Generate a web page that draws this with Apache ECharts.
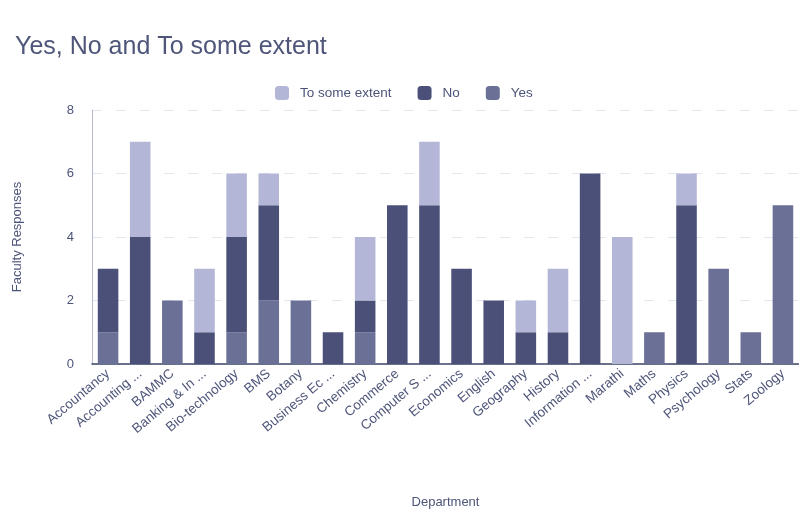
<!DOCTYPE html>
<html>
<head>
<meta charset="utf-8">
<script src="https://cdn.jsdelivr.net/npm/echarts@6/dist/echarts.min.js"></script>
<style>
  html, body { margin: 0; padding: 0; background: #ffffff; }
  #chart { width: 799px; height: 512px; }
</style>
</head>
<body>
<div id="chart"></div>
<script>
// Departments (labels as shown, long names truncated)
const departments = [
  'Accountancy', 'Accounting ...', 'BAMMC', 'Banking & In ...', 'Bio-technology',
  'BMS', 'Botany', 'Business Ec ...', 'Chemistry', 'Commerce', 'Computer S ...',
  'Economics', 'English', 'Geography', 'History', 'Information ...', 'Marathi',
  'Maths', 'Physics', 'Psychology', 'Stats', 'Zoology'
];

// Faculty responses per department
const yesValues          = [1, 0, 2, 0, 1, 2, 2, 0, 1, 0, 0, 0, 0, 0, 0, 0, 0, 1, 0, 3, 1, 5];
const noValues           = [2, 4, 0, 1, 3, 3, 0, 1, 1, 5, 5, 3, 2, 1, 1, 6, 0, 0, 5, 0, 0, 0];
const someExtentValues   = [0, 3, 0, 2, 2, 1, 0, 0, 2, 0, 2, 0, 0, 1, 2, 0, 4, 0, 1, 0, 0, 0];

const yTicks = [0, 2, 4, 6, 8];

const textColor = '#4d5479';
const font = '"Liberation Sans", Arial, sans-serif';

const chart = echarts.init(document.getElementById('chart'), null, { renderer: 'canvas' });

function nz(arr) { return arr.map(v => (v === 0 ? '-' : v)); }

chart.setOption({
  backgroundColor: '#ffffff',
  animation: false,
  textStyle: { fontFamily: font, color: textColor },
  title: {
    text: 'Yes, No and To some extent',
    left: 10,
    top: 30,
    textStyle: { fontFamily: font, fontSize: 25, fontWeight: 'normal', color: '#4f5679' }
  },
  legend: {
    top: 81,
    left: 270,
    itemWidth: 14,
    itemHeight: 14,
    itemGap: 26,
    textStyle: { fontFamily: font, fontSize: 13.5, color: textColor, padding: [0, 0, 0, 6] },
    data: ['To some extent', 'No', 'Yes']
  },
  grid: { left: 92, right: 0, top: 110, bottom: 148 },
  xAxis: {
    type: 'category',
    data: departments,
    name: 'Department',
    nameLocation: 'middle',
    nameGap: 132,
    nameTextStyle: { fontFamily: font, fontSize: 13, color: textColor },
    axisLine: { lineStyle: { color: '#3e4466', width: 1.5 } },
    axisTick: { show: false },
    axisLabel: {
      interval: 0,
      rotate: 40,
      fontSize: 13.5,
      color: textColor,
      margin: 8
    }
  },
  yAxis: {
    type: 'value',
    min: yTicks[0],
    max: yTicks[yTicks.length - 1],
    interval: 2,
    name: 'Faculty Responses',
    nameLocation: 'middle',
    nameGap: 68,
    nameTextStyle: { fontFamily: font, fontSize: 13, color: textColor },
    axisLine: { show: true, lineStyle: { color: '#b4b8d0', width: 1 } },
    axisTick: { show: false },
    axisLabel: { fontSize: 13, color: textColor, margin: 18 },
    splitLine: { lineStyle: { color: '#e4e6ee', width: 1, type: [10, 14] } }
  },
  series: [
    {
      name: 'Yes', type: 'bar', stack: 'total', barWidth: '64%',
      itemStyle: { color: '#6b7097' },
      data: nz(yesValues)
    },
    {
      name: 'No', type: 'bar', stack: 'total', barWidth: '64%',
      itemStyle: { color: '#4b5078' },
      data: nz(noValues)
    },
    {
      name: 'To some extent', type: 'bar', stack: 'total', barWidth: '64%',
      itemStyle: { color: '#b3b6d6' },
      data: nz(someExtentValues)
    }
  ]
});
</script>
</body>
</html>
